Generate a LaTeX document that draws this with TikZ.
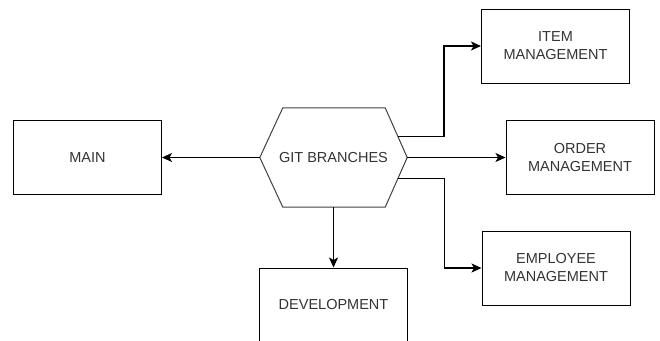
\documentclass[tikz,border=0pt]{standalone}
\usepackage{fontspec}
\setmainfont{Liberation Sans}
\usepackage{tikz}
\usetikzlibrary{positioning, calc, arrows.meta}

\begin{document}
\begin{tikzpicture}[
    x=1pt, y=-1pt,
    every node/.style={align=center, text=black!80, font=\fontsize{14.5}{18}\selectfont},
    box/.style={draw=black, line width=1pt, rectangle, minimum width=148pt, minimum height=74pt, inner sep=0pt},
    conn/.style={draw=black, line width=1.1pt, -{Stealth[length=10pt, width=9pt, inset=2.5pt]}}
]
\useasboundingbox (0,0) rectangle (660,340);
\clip (0,0) rectangle (660,340);

% Center: the branch hub
\node[minimum width=147pt, minimum height=99pt, inner sep=0pt] (git) at (333.5,157.5) {GIT BRANCHES};
\draw[black!75, line width=1pt]
    ($(git.north west)+(23,0)$) -- ($(git.north east)+(-22,0)$) -- (git.east)
    -- ($(git.south east)+(-22,0)$) -- ($(git.south west)+(23,0)$) -- (git.west) -- cycle;
\coordinate (gitup) at ($(git.north east)!0.57!(git.east)+(-22*0.43,0)$);
\coordinate (gitdown) at ($(git.south east)!0.57!(git.east)+(-22*0.43,0)$);

% Branches
\node[box] (main) at (87.5,157.5) {MAIN};
\node[box] (item) at (555.5,46) {ITEM\\MANAGEMENT};
\node[box] (order) at (580,157.5) {ORDER\\MANAGEMENT};
\node[box] (employee) at (556,268) {EMPLOYEE\\MANAGEMENT};
\node[box] (dev) at (333.5,305) {DEVELOPMENT};

% Connectors
\draw[conn] (git.west) -- (main.east);
\draw[conn] (git.east) -- (order.west);
\draw[conn] (git.south) -- (dev.north);
\draw[conn] (gitup) -| ([xshift=-37pt]item.west) -- (item.west);
\draw[conn] (gitdown) -| ([xshift=-37pt]employee.west) -- (employee.west);

\end{tikzpicture}
\end{document}
